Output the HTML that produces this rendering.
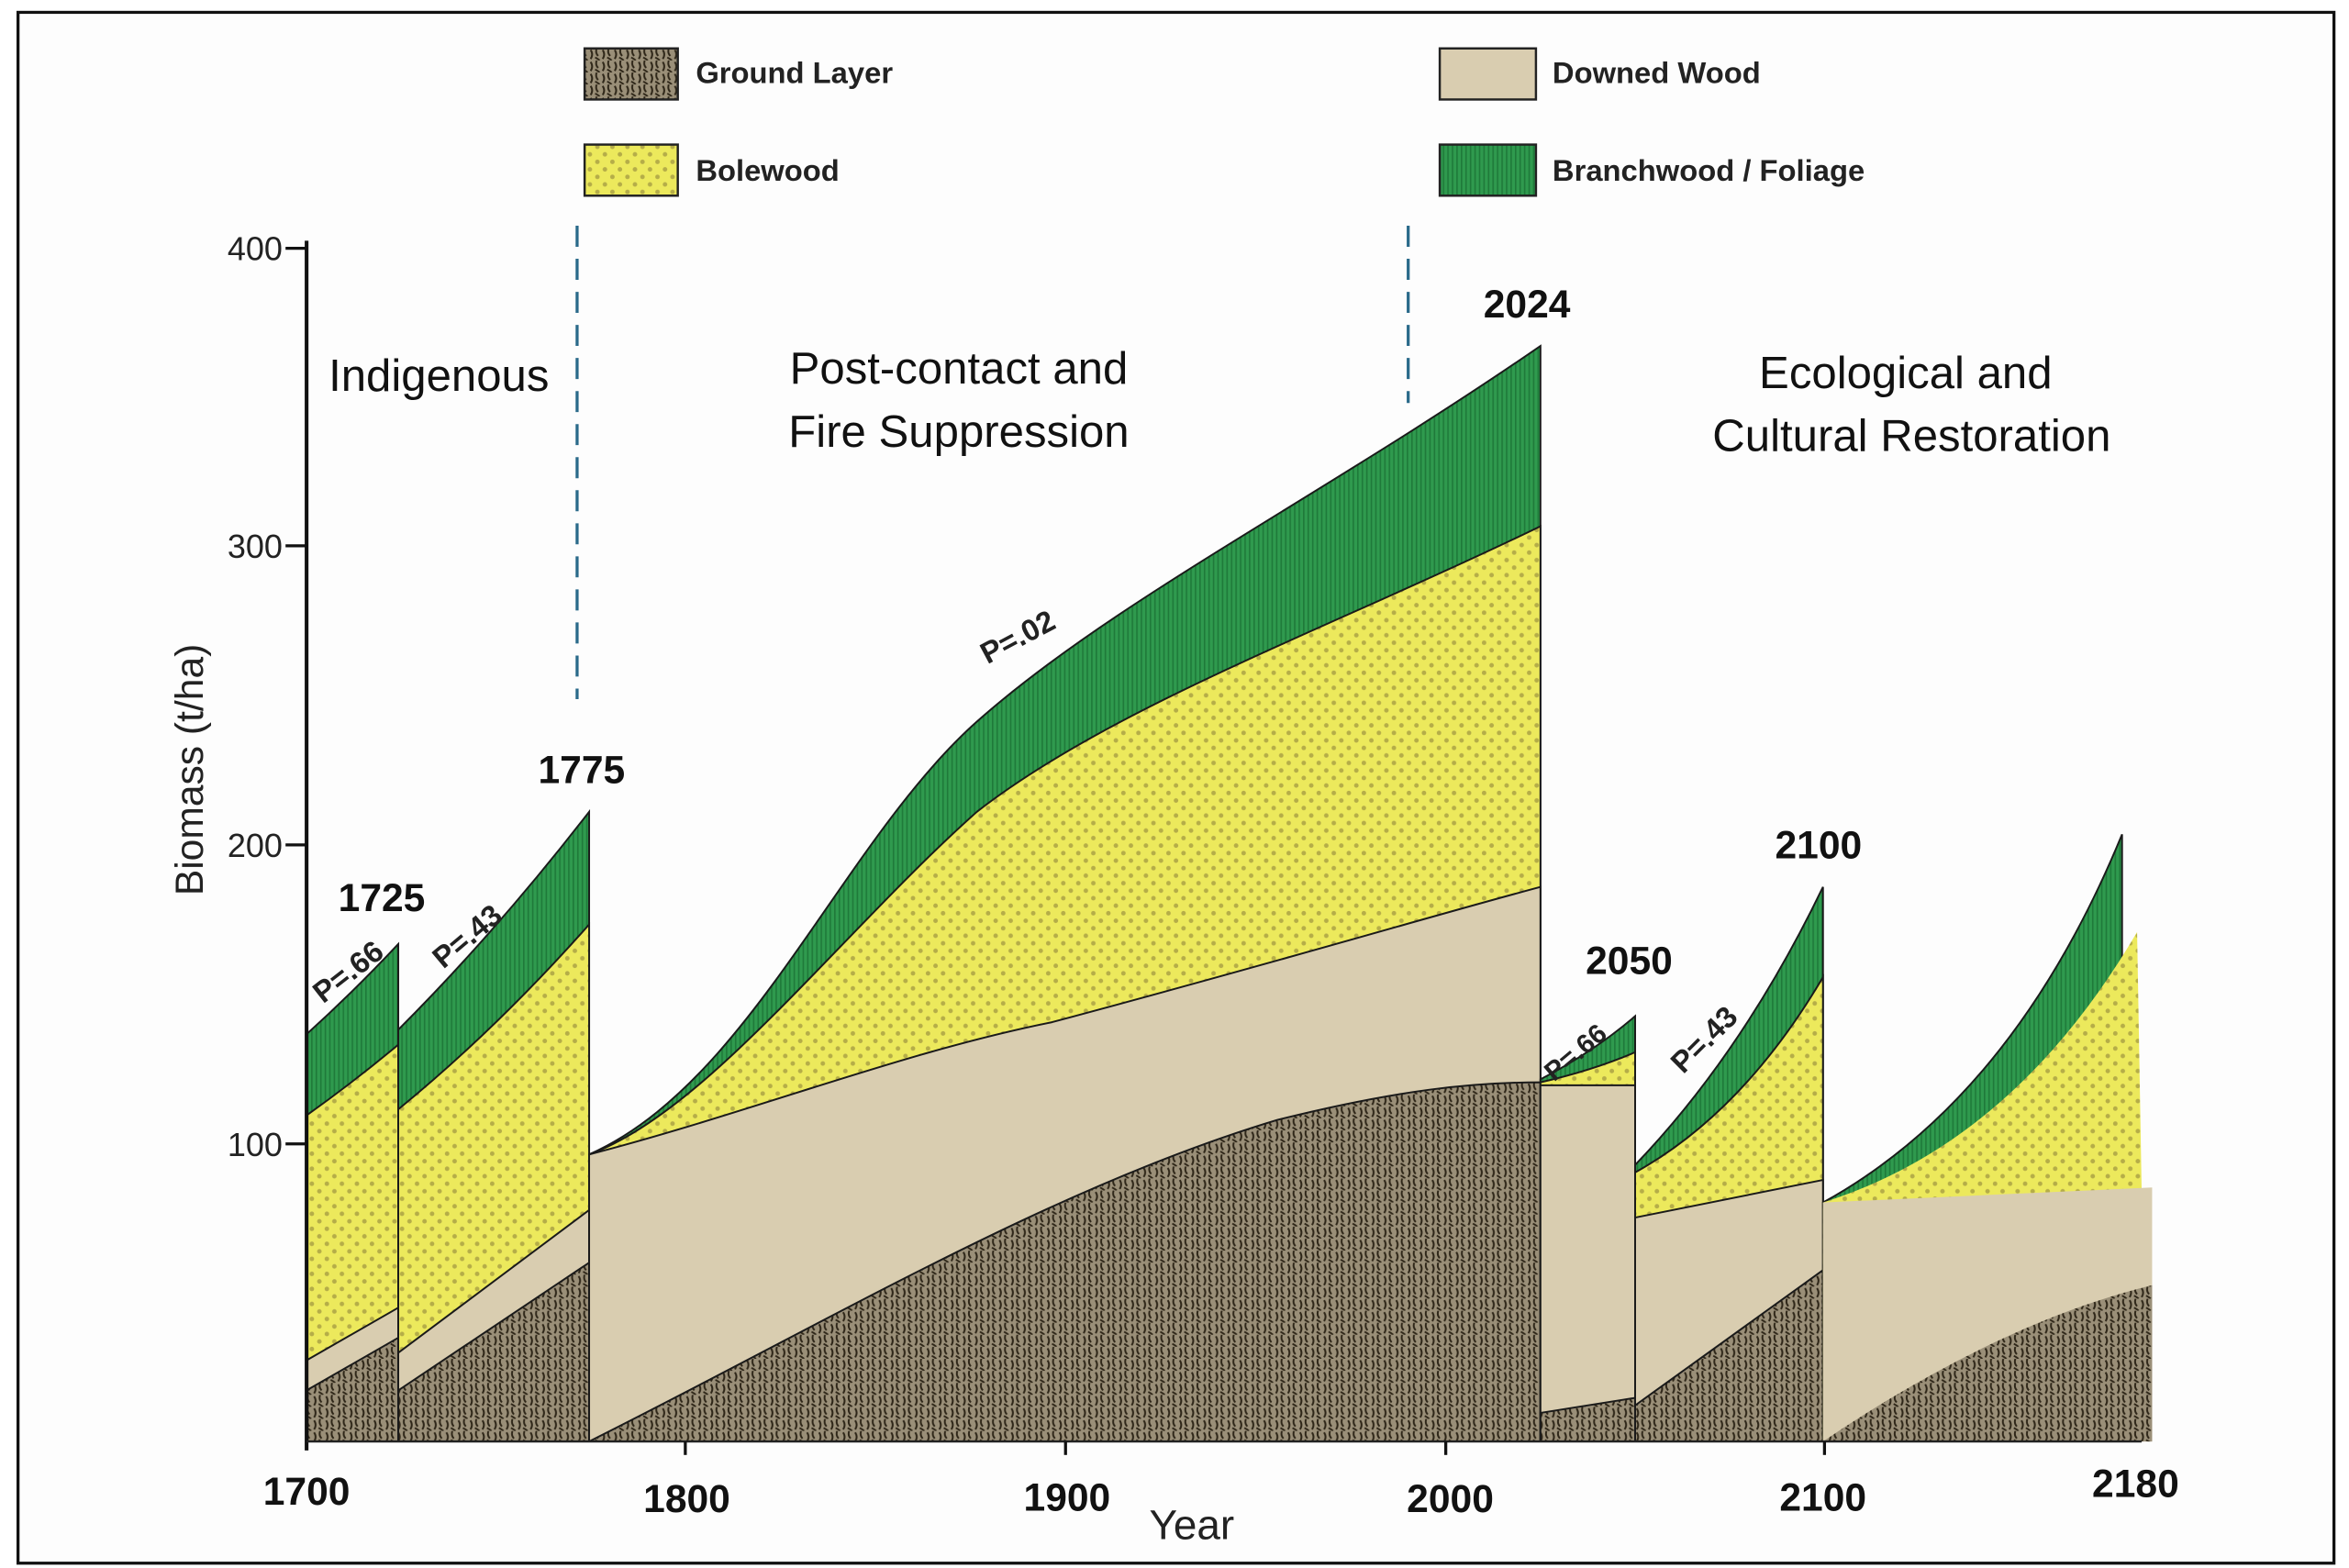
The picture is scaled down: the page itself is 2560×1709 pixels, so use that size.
<!DOCTYPE html>
<html><head><meta charset="utf-8"><style>
html,body{margin:0;padding:0;background:#fff}
svg{display:block}
text{font-family:"Liberation Sans",sans-serif}
</style></head><body>
<svg width="2560" height="1709" viewBox="0 0 1563 1043" xmlns="http://www.w3.org/2000/svg">
<defs>
<pattern id="gr" width="8" height="8" patternUnits="userSpaceOnUse">
<rect width="8" height="8" fill="#9a8f78"/>
<path d="M1 1 q2 3 0 6 M5 0 q-1 3 1 5 M4 6 q2 1 3 2" stroke="#2e2618" stroke-width="1.2" fill="none"/>
</pattern>
<pattern id="yl" width="10" height="10" patternUnits="userSpaceOnUse">
<rect width="10" height="10" fill="#ece95c"/>
<circle cx="2.5" cy="2.5" r="1.5" fill="#b5ad48"/>
<circle cx="7.5" cy="7.5" r="1.5" fill="#b5ad48"/>
</pattern>
<pattern id="gn" width="3" height="6" patternUnits="userSpaceOnUse">
<rect width="3" height="6" fill="#2f9a4e"/>
<rect width="1" height="6" fill="#1f7a3a"/>
</pattern>
</defs>
<rect x="12" y="8" width="1541" height="1032" fill="#fdfdfd" stroke="#111" stroke-width="2"/>

<!-- Segment 1 -->
<g stroke="#1a1a1a" stroke-width="1.2">
<path d="M204 688 Q235 660 265 628 L265 959 L204 959Z" fill="url(#gn)"/>
<path d="M204 742 Q235 720 265 695 L265 959 L204 959Z" fill="url(#yl)"/>
<path d="M204 905 L265 870 L265 959 L204 959Z" fill="#d9cdb0"/>
<path d="M204 925 L265 890 L265 959 L204 959Z" fill="url(#gr)"/>
<!-- Segment 2 -->
<path d="M265 685 Q330 620 392 540 L392 959 L265 959Z" fill="url(#gn)"/>
<path d="M265 738 Q330 685 392 615 L392 959 L265 959Z" fill="url(#yl)"/>
<path d="M265 900 L392 805 L392 959 L265 959Z" fill="#d9cdb0"/>
<path d="M265 925 L392 840 L392 959 L265 959Z" fill="url(#gr)"/>
<!-- Segment 3 -->
<path d="M392 768 C500 720 560 560 650 480 C740 400 880 330 1025 230 L1025 959 L392 959Z" fill="url(#gn)"/>
<path d="M392 768 C470 740 560 620 650 540 C740 470 880 420 1025 350 L1025 959 L392 959Z" fill="url(#yl)"/>
<path d="M392 768 C500 740 600 700 700 680 C850 640 950 610 1025 590 L1025 959 L392 959Z" fill="#d9cdb0"/>
<path d="M392 959 C550 880 700 790 850 745 C930 725 980 720 1025 720 L1025 959Z" fill="url(#gr)"/>
<!-- Segment 4 -->
<path d="M1025 718 Q1060 700 1088 676 L1088 959 L1025 959Z" fill="url(#gn)"/>
<path d="M1025 720 Q1060 712 1088 700 L1088 959 L1025 959Z" fill="url(#yl)"/>
<path d="M1025 722 L1088 722 L1088 959 L1025 959Z" fill="#d9cdb0"/>
<path d="M1025 940 L1088 930 L1088 959 L1025 959Z" fill="url(#gr)"/>
<!-- Segment 5 -->
<path d="M1088 775 Q1160 700 1213 590 L1213 959 L1088 959Z" fill="url(#gn)"/>
<path d="M1088 780 Q1160 740 1213 650 L1213 959 L1088 959Z" fill="url(#yl)"/>
<path d="M1088 810 L1213 785 L1213 959 L1088 959Z" fill="#d9cdb0"/>
<path d="M1088 935 L1213 845 L1213 959 L1088 959Z" fill="url(#gr)"/>
<!-- Segment 6 -->
<path d="M1213 800 Q1340 730 1412 555 L1412 959 L1213 959Z" fill="url(#gn)"/>
<path d="M1213 800 Q1340 760 1422 620 L1425 790 L1425 959 L1213 959Z" fill="url(#yl)" stroke="none"/>
<path d="M1213 800 L1432 790 L1432 959 L1213 959Z" fill="#d9cdb0" stroke="none"/>
<path d="M1213 959 Q1330 880 1432 855 L1432 959Z" fill="url(#gr)" stroke="none"/>
</g>

<!-- axes -->
<line x1="204" y1="160" x2="204" y2="965" stroke="#111" stroke-width="2.5"/>
<line x1="204" y1="959" x2="1425" y2="959" stroke="#222" stroke-width="1.5"/>
<g stroke="#111" stroke-width="2">
<line x1="190" y1="165" x2="204" y2="165"/><line x1="190" y1="363" x2="204" y2="363"/>
<line x1="190" y1="562" x2="204" y2="562"/><line x1="190" y1="761" x2="204" y2="761"/>
<line x1="456" y1="959" x2="456" y2="968"/><line x1="709" y1="959" x2="709" y2="968"/>
<line x1="962" y1="959" x2="962" y2="968"/><line x1="1214" y1="959" x2="1214" y2="968"/>
</g>
<g font-size="22" fill="#222" text-anchor="end">
<text x="188" y="173">400</text><text x="188" y="371">300</text>
<text x="188" y="570">200</text><text x="188" y="769">100</text>
</g>
<text transform="translate(135,512) rotate(-90)" font-size="26" fill="#222" text-anchor="middle">Biomass (t/ha)</text>
<text x="793" y="1024" font-size="28" fill="#222" text-anchor="middle">Year</text>

<g font-size="26" font-weight="bold" fill="#111" text-anchor="middle">
<text x="204" y="1001">1700</text><text x="457" y="1006">1800</text>
<text x="710" y="1005">1900</text><text x="965" y="1006">2000</text>
<text x="1213" y="1005">2100</text><text x="1421" y="996">2180</text>
<text x="254" y="606">1725</text><text x="387" y="521">1775</text>
<text x="1016" y="211">2024</text><text x="1084" y="648">2050</text>
<text x="1210" y="571">2100</text>
</g>

<g stroke="#2a6a8a" stroke-width="2" stroke-dasharray="14,8">
<line x1="384" y1="150" x2="384" y2="465"/><line x1="937" y1="150" x2="937" y2="268"/>
</g>

<g font-size="30" fill="#111" text-anchor="middle">
<text x="292" y="260">Indigenous</text>
<text x="638" y="255">Post-contact and</text>
<text x="638" y="297">Fire Suppression</text>
<text x="1268" y="258">Ecological and</text>
<text x="1272" y="300">Cultural Restoration</text>
</g>

<g font-size="20" font-weight="bold" fill="#222">
<text transform="translate(215,668) rotate(-38)">P=.66</text>
<text transform="translate(295,645) rotate(-40)">P=.43</text>
<text transform="translate(657,442) rotate(-28)">P=.02</text>
<text transform="translate(1034,720) rotate(-40)" font-size="18">P=.66</text>
<text transform="translate(1120,715) rotate(-45)">P=.43</text>
</g>

<!-- legend -->
<rect x="389" y="32" width="62" height="34" fill="url(#gr)" stroke="#222" stroke-width="1.5"/>
<rect x="389" y="96" width="62" height="34" fill="url(#yl)" stroke="#222" stroke-width="1.5"/>
<rect x="958" y="32" width="64" height="34" fill="#d9cdb0" stroke="#222" stroke-width="1.5"/>
<rect x="958" y="96" width="64" height="34" fill="url(#gn)" stroke="#222" stroke-width="1.5"/>
<g font-size="20" font-weight="bold" fill="#222">
<text x="463" y="55">Ground Layer</text>
<text x="463" y="120">Bolewood</text>
<text x="1033" y="55">Downed Wood</text>
<text x="1033" y="120">Branchwood / Foliage</text>
</g>
</svg>
</body></html>
